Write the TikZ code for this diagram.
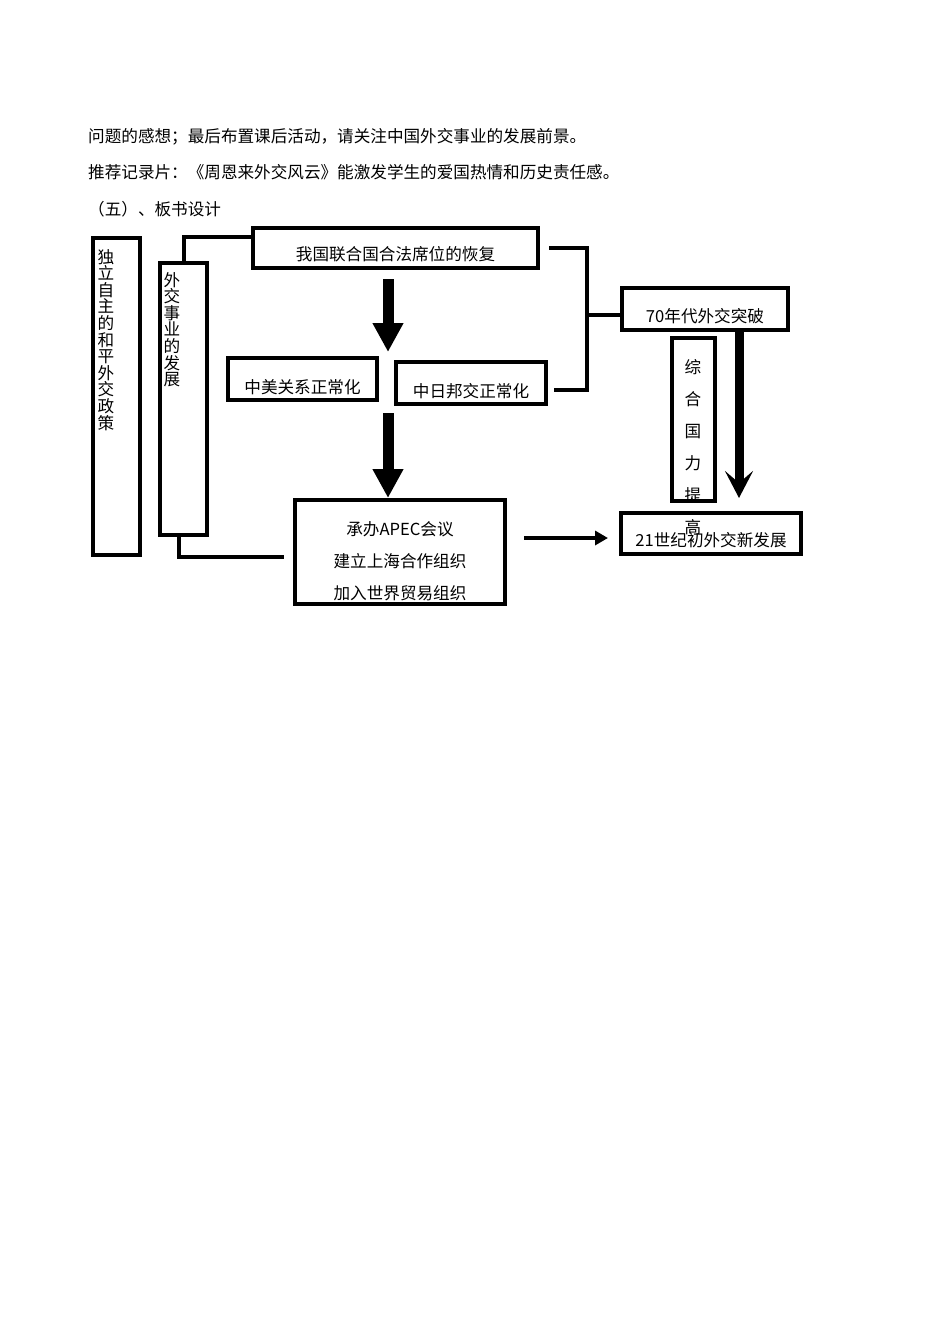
\documentclass[tikz,border=0pt]{standalone}
\usepackage{fontspec}
\setmainfont{Noto Sans CJK SC}
\usetikzlibrary{arrows.meta, positioning, calc}

\begin{document}
\begin{tikzpicture}[x=1pt, y=-1pt,
    font=\fontsize{16.6}{20}\selectfont,
    board/.style={draw, line width=4pt, inner sep=0pt},
    vtext/.style={inner sep=0pt, anchor=north, align=center},
    conn/.style={line width=4pt},
    fatarrow/.style={line width=11pt, -{Triangle[width=29pt, length=29pt]}}]
    \useasboundingbox (0,0) rectangle (950,1344);

    % Lesson text above the board design
    \node[anchor=west, inner sep=0pt] (line1) at (88,137) {问题的感想；最后布置课后活动，请关注中国外交事业的发展前景。};
    \node[anchor=west, inner sep=0pt] (line2) at (88,172) {推荐记录片：《周恩来外交风云》能激发学生的爱国热情和历史责任感。};
    \node[anchor=west, inner sep=0pt] (line3) at (88,209) {（五）、板书设计};

    % Tall boxes on the left
    \node[board, minimum width=47pt, minimum height=317pt] (policy) at (116.5,396.5) {};
    \node[vtext, font=\fontsize{16.6}{16.6}\selectfont] (policytxt) at (106,249)
        {独\\立\\自\\主\\的\\和\\平\\外\\交\\政\\策};
    \node[board, minimum width=47pt, minimum height=272pt] (devel) at (183.5,399) {};
    \node[vtext, font=\fontsize{16.6}{16.6}\selectfont] (develtxt) at (172,272)
        {外\\交\\事\\业\\的\\发\\展};

    % Events boxes
    \node[board, minimum width=285pt, minimum height=40pt, text height=26.6pt, text depth=2pt] (recover) at (395.5,248) {我国联合国合法席位的恢复};
    \node[board, minimum width=149pt, minimum height=42pt, text height=30.6pt, text depth=2pt] (sinoUS) at (302.5,379) {中美关系正常化};
    \node[board, minimum width=150pt, minimum height=42pt, text height=30.6pt, text depth=2pt] (sinoJP) at (471,383) {中日邦交正常化};
    \node[board, minimum width=210pt, minimum height=104pt, align=center, font=\fontsize{16.6}{32}\selectfont] (events) at (400,552)
        {\rule{0pt}{32.6pt}承办APEC会议\\建立上海合作组织\\加入世界贸易组织};

    % Right column
    \node[board, minimum width=166pt, minimum height=42pt, text height=28.6pt, text depth=2pt] (breakthru) at (705,309) {70年代外交突破};
    \node[board, minimum width=43pt, minimum height=163pt] (power) at (693.5,419.5) {};
    \node[board, fill=white, minimum width=180pt, minimum height=41pt, text height=27.6pt, text depth=2pt] (newdev) at (711,533.5) {21世纪初外交新发展};
    \node[vtext, font=\fontsize{16.6}{32}\selectfont] (powertxt) at (693,359)
        {综\\合\\国\\力\\提\\高};

    % Connectors
    \coordinate (jn) at (587,315);
    \draw[conn] (devel.north) |- ($(recover.north west)+(0,11)$);
    \draw[conn] ([xshift=9pt]recover.east) -| (jn) |- ([xshift=6pt,yshift=-7pt]sinoJP.east);
    \draw[conn] (jn) -- ([yshift=-6pt]breakthru.west);
    \draw[conn] ([xshift=-5pt]devel.south) |- ([xshift=-9pt,yshift=-5pt]events.west);

    % Arrows
    \coordinate (split) at (388,352);
    \coordinate (merge) at (388,413);
    \draw[fatarrow] ([xshift=-7.5pt,yshift=-9pt]recover.south) -- (split);
    \draw[fatarrow] (merge) -- ([xshift=-12pt]events.north);
    \draw[conn, -{Triangle[width=14pt, length=13pt]}] ([xshift=17pt,yshift=14pt]events.east) -- ([xshift=-11pt,yshift=-4.5pt]newdev.west);
    \draw[line width=9pt, -{Stealth[width=28pt, length=27pt, inset=12pt]}] ([xshift=34pt]breakthru.south) -- ([xshift=28pt,yshift=13pt]newdev.north);
\end{tikzpicture}
\end{document}
